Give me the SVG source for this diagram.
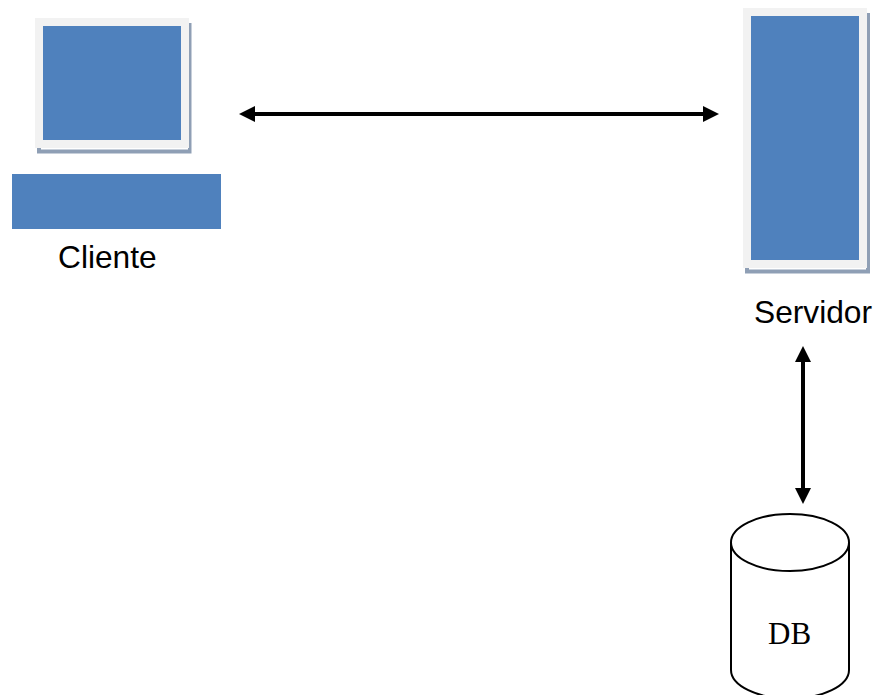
<svg xmlns="http://www.w3.org/2000/svg" width="876" height="695" viewBox="0 0 876 695">
<style>
.shadow{fill:#8f9fb5}
.frame{fill:#f2f2f2}
.blue{fill:#4f81bd}
.lbl{font-family:"Liberation Sans",Arial,sans-serif;font-size:31.700px;fill:#000}
.db{font-family:"Liberation Serif","Times New Roman",serif;font-size:31px;fill:#000}
.conn{stroke:#000;stroke-width:4;fill:none}
.cyl{fill:#fff;stroke:#000;stroke-width:2}
</style>
<rect width="876" height="695" fill="#fff"/>
<g id="cliente">
<rect class="shadow" x="37" y="23" width="154.500" height="130.500"/>
<rect x="41" y="148" width="147" height="1.500" fill="#fff"/>
<rect class="frame" x="35" y="18" width="154" height="130"/>
<rect class="blue" x="43" y="26" width="138" height="114"/>
<rect class="blue" x="12" y="174" width="209" height="55"/>
<text class="lbl" x="58" y="268">Cliente</text>
</g>
<g id="servidor">
<rect class="shadow" x="745" y="13" width="125" height="260.500"/>
<rect x="749" y="268" width="117" height="1.500" fill="#fff"/>
<rect class="frame" x="743" y="8" width="124" height="260"/>
<rect class="blue" x="751" y="16" width="108" height="244"/>
<text class="lbl" x="754" y="323">Servidor</text>
</g>
<g id="db">
<path class="cyl" d="M731 542.500V670A59 28.500 0 0 0 849 670V542.500"/>
<ellipse class="cyl" cx="790" cy="542.500" rx="59" ry="28.500"/>
<text class="db" x="768" y="644">DB</text>
</g>
<g id="connectors">
<line class="conn" x1="250" y1="114" x2="708" y2="114"/>
<path d="M239 114L255 106V122Z"/>
<path d="M719 114L703 106V122Z"/>
<line class="conn" x1="803" y1="358" x2="803" y2="492"/>
<path d="M803 346L795 362H811Z"/>
<path d="M803 504L795 488H811Z"/>
</g>
</svg>
